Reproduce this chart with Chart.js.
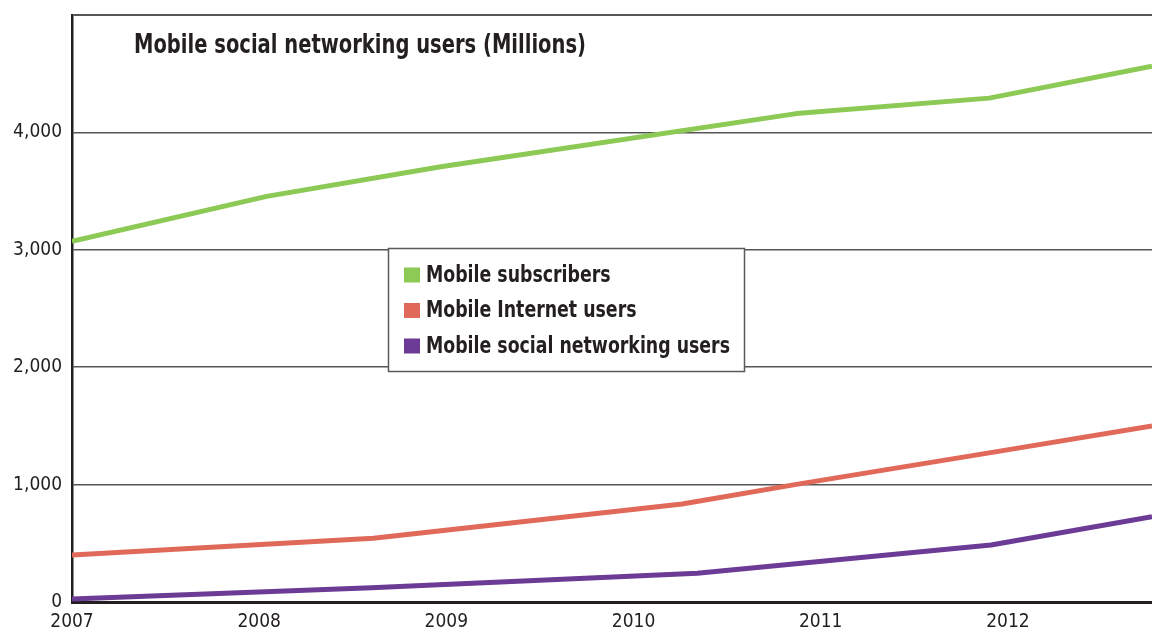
<!DOCTYPE html>
<html><head><meta charset="utf-8">
<script src="https://cdn.jsdelivr.net/npm/chart.js@4.4.1/dist/chart.umd.min.js"></script>
<style>html,body{margin:0;padding:0;background:#fff;overflow:hidden}#wrap{width:1152px;height:635px;position:relative}</style>
</head><body><div id="wrap"><canvas id="c" width="1152" height="635"></canvas></div>
<script>
const chartTitle = 'Mobile social networking users (Millions)';
const seriesNames = ['Mobile subscribers', 'Mobile Internet users', 'Mobile social networking users'];
const yearTicks = [2007, 2008, 2009, 2010, 2011, 2012];
const valueTicks = [0, 1000, 2000, 3000, 4000, 5000];
const subscribersYears = [2007, 2008.04, 2008.97, 2010.87, 2011.90, 2012.77];
const subscribersValues = [3072, 3455, 3708, 4160, 4292, 4564];
const internetYears = [2007, 2008.61, 2010.26, 2010.87, 2011.90, 2012.77];
const internetValues = [401, 543, 835, 1002, 1270, 1500];
const socialYears = [2007, 2008.6, 2010.34, 2011.91, 2012.77];
const socialValues = [26, 122, 245, 486, 727];

const seriesColors = ['#8cc955', '#e0695a', '#6b3b96'];
const FONT = "'Liberation Sans Narrow', 'DejaVu Sans Condensed', 'Roboto', sans-serif";
const INK = '#231f20';

function toPoints(xs, ys) { return xs.map((x, i) => ({ x: x, y: ys[i] })); }

function condensedText(c, text, x, y, targetWidth) {
  const w = c.measureText(text).width;
  const k = Math.min(1, targetWidth / w);
  c.save();
  c.translate(x, y);
  c.scale(k, 1);
  c.fillText(text, 0, 0);
  c.restore();
}

const overlay = {
  id: 'overlay',
  afterDatasetsDraw(chart) {
    const c = chart.ctx;
    c.save();
    // title
    c.fillStyle = INK;
    c.font = "bold 26px " + FONT;
    c.textBaseline = 'alphabetic';
    c.textAlign = 'left';
    condensedText(c, chartTitle, 134, 53, 452);
    // legend box
    const bx = 388.5, by = 248.5, bw = 356, bh = 123;
    c.fillStyle = '#ffffff';
    c.fillRect(bx, by, bw, bh);
    c.strokeStyle = '#5a5a5a';
    c.lineWidth = 1.5;
    c.strokeRect(bx, by, bw, bh);
    c.font = "bold 23px " + FONT;
    c.textBaseline = 'middle';
    const longest = chart.data.datasets.reduce((m, ds) => Math.max(m, c.measureText(ds.label).width), 0);
    const k = Math.min(1, 304 / longest);
    chart.data.datasets.forEach((ds, i) => {
      const cy = 275 + i * 35.5;
      c.fillStyle = ds.borderColor;
      c.fillRect(404, cy - 7.5, 16, 15);
      c.fillStyle = INK;
      c.save();
      c.translate(426, cy + 1);
      c.scale(k, 1);
      c.fillText(ds.label, 0, 0);
      c.restore();
    });
    c.restore();
  }
};

const datasets = [
  { label: seriesNames[0], data: toPoints(subscribersYears, subscribersValues), borderColor: seriesColors[0] },
  { label: seriesNames[1], data: toPoints(internetYears, internetValues), borderColor: seriesColors[1] },
  { label: seriesNames[2], data: toPoints(socialYears, socialValues), borderColor: seriesColors[2] }
];

new Chart(document.getElementById('c'), {
  type: 'line',
  data: { datasets: datasets },
  plugins: [overlay],
  options: {
    responsive: false,
    animation: false,
    events: [],
    layout: { padding: { top: 15, right: 0, left: 0, bottom: 0 } },
    plugins: { legend: { display: false }, title: { display: false }, tooltip: { enabled: false } },
    elements: {
      point: { radius: 0 },
      line: { borderWidth: 5, tension: 0, fill: false, borderJoinStyle: 'round', borderCapStyle: 'butt' }
    },
    scales: {
      x: {
        type: 'linear', min: 2007, max: 2012.77,
        afterBuildTicks: s => { s.ticks = yearTicks.map(v => ({ value: v })); },
        afterFit: s => { s.height = 33; s.paddingLeft = 0; s.paddingRight = 0; },
        grid: { display: false, drawTicks: false },
        border: { display: true, color: INK, width: 3 },
        ticks: { padding: 9, color: INK, font: { family: FONT, size: 19 }, maxRotation: 0, autoSkip: false, callback: v => String(v) }
      },
      y: {
        type: 'linear', min: 0, max: 5000,
        afterBuildTicks: s => { s.ticks = valueTicks.map(v => ({ value: v })); },
        afterFit: s => { s.width = 72; s.paddingTop = 0; s.paddingBottom = 0; },
        grid: {
          drawTicks: false,
          color: ctx => (ctx.tick && ctx.tick.value === 0) ? INK : '#555555',
          lineWidth: ctx => (ctx.tick && ctx.tick.value === 0) ? 3 : (ctx.tick && ctx.tick.value === 5000 ? 2 : 1.5)
        },
        border: { display: true, color: INK, width: 2.5 },
        ticks: { padding: 10, color: INK, font: { family: FONT, size: 19 }, callback: v => v === 5000 ? '' : v.toLocaleString('en-US') }
      }
    }
  }
});
</script>
</body></html>
